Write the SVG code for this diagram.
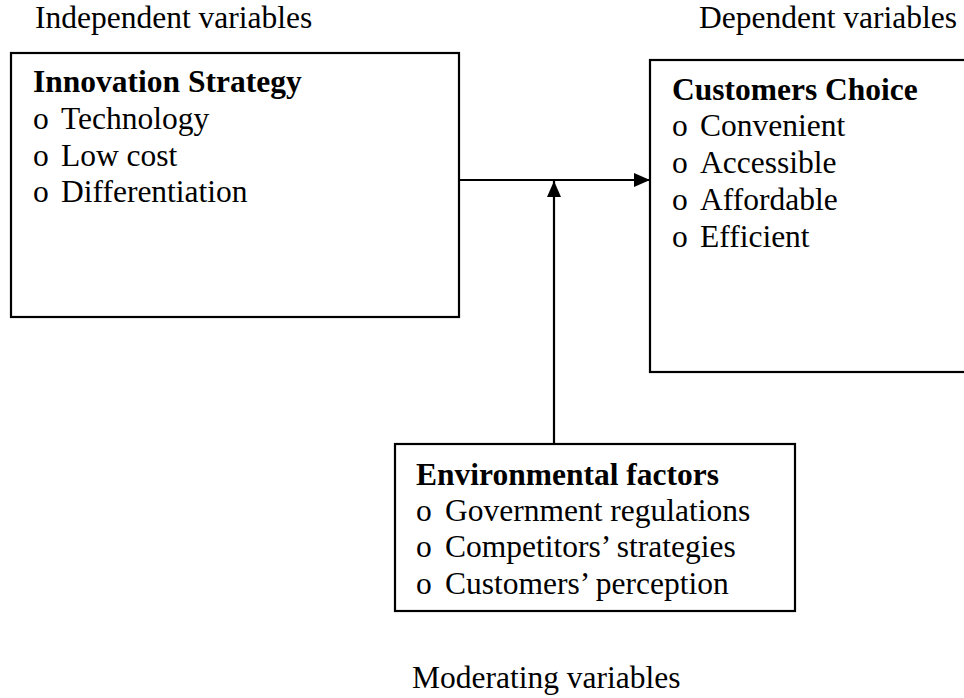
<svg xmlns="http://www.w3.org/2000/svg" width="964" height="698" viewBox="0 0 964 698">
<style>
text{font-family:"Liberation Serif","Times New Roman",serif;font-size:31.5px;fill:#000}
.b{font-weight:bold}
.box{fill:#fff;stroke:#000;stroke-width:2.2}
.ln{stroke:#000;stroke-width:2.2;fill:none}
</style>
<defs>
<marker id="ah" viewBox="0 0 16 14" refX="16" refY="7" markerWidth="16" markerHeight="14" markerUnits="userSpaceOnUse" orient="auto">
<path d="M0,0 L16,7 L0,14 Z" fill="#000"/>
</marker>
</defs>
<rect width="964" height="698" fill="#fff"/>
<text x="35" y="28">Independent variables</text>
<text x="699" y="28">Dependent variables</text>
<text x="412" y="688">Moderating variables</text>
<g id="innovation">
<rect class="box" x="11" y="53" width="448" height="264"/>
<text class="b" x="33" y="92">Innovation Strategy</text>
<text x="33" y="129">o <tspan x="61">Technology</tspan></text>
<text x="33" y="166">o <tspan x="61">Low cost</tspan></text>
<text x="33" y="202">o <tspan x="61">Differentiation</tspan></text>
</g>
<g id="customers">
<rect class="box" x="650" y="60" width="330" height="312"/>
<text class="b" x="672" y="100">Customers Choice</text>
<text x="672" y="136">o <tspan x="700">Convenient</tspan></text>
<text x="672" y="173">o <tspan x="700">Accessible</tspan></text>
<text x="672" y="210">o <tspan x="700">Affordable</tspan></text>
<text x="672" y="247">o <tspan x="700">Efficient</tspan></text>
</g>
<g id="environment">
<rect class="box" x="395" y="444" width="400" height="167"/>
<text class="b" x="416" y="485">Environmental factors</text>
<text x="416" y="521">o <tspan x="445">Government regulations</tspan></text>
<text x="416" y="557">o <tspan x="445">Competitors’ strategies</tspan></text>
<text x="416" y="594">o <tspan x="445">Customers’ perception</tspan></text>
</g>
<g id="connectors">
<line class="ln" x1="459" y1="180" x2="650" y2="180" marker-end="url(#ah)"/>
<line class="ln" x1="554" y1="444" x2="554" y2="181" marker-end="url(#ah)"/>
</g>
</svg>
